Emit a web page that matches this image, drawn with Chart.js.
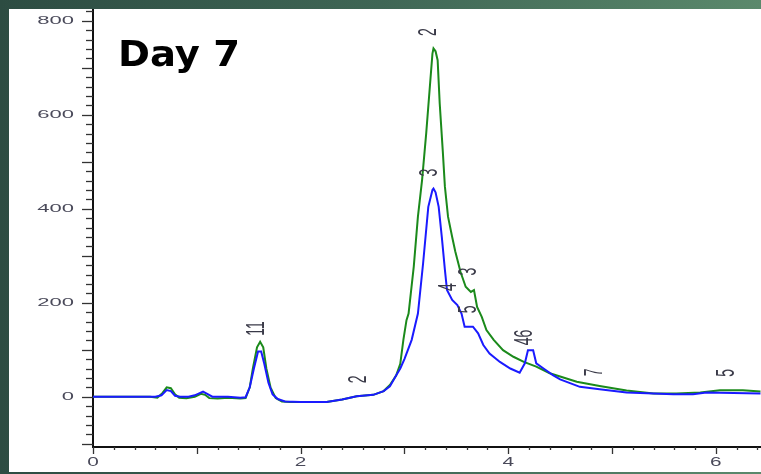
<!DOCTYPE html>
<html>
<head>
<meta charset="utf-8">
<script src="https://cdn.jsdelivr.net/npm/chart.js@4"></script>
<style>
  body { margin: 0; width: 761px; height: 474px; overflow: hidden;
         background: linear-gradient(90deg, #2d4c42 0%, #3f6655 50%, #5b896c 100%); }
  #panel { position: absolute; left: 9px; top: 9px; width: 752px; height: 463px; background: #fff; }
</style>
</head>
<body>
<div id="panel"><canvas id="dayChart" width="752" height="463"></canvas></div>
<script>
// retention time (min) and detector response
const greenTime = [0, 0.55, 0.62, 0.67, 0.71, 0.75, 0.79, 0.83, 0.9, 0.98, 1.04, 1.08, 1.12, 1.2, 1.3, 1.42, 1.47,
  1.51, 1.54, 1.58, 1.61, 1.64, 1.67, 1.71, 1.76, 1.82, 1.9, 2.0, 2.25, 2.4, 2.54, 2.7, 2.8, 2.86, 2.92, 2.96,
  2.99, 3.02, 3.04, 3.09, 3.13, 3.17, 3.21, 3.25, 3.27, 3.28, 3.3, 3.32, 3.34, 3.37, 3.39, 3.42, 3.46, 3.49,
  3.54, 3.59, 3.64, 3.67, 3.7, 3.745, 3.79, 3.86, 3.95, 4.05, 4.15, 4.27, 4.4, 4.5, 4.66, 4.88, 5.14, 5.4,
  5.62, 5.85, 6.04, 6.26, 6.43];
const greenValues = [0, 0, -2, 8, 20, 18, 5, -2, -3, 0, 6, 4, -3, -4, -2, -4, -3,
  20, 60, 105, 117, 105, 60, 20, -3, -10, -11, -11, -11, -6, 1, 4, 12, 25, 45, 70,
  121, 163, 177, 277, 383, 461, 561, 674, 730, 741, 735, 716, 624, 521, 447, 383, 340, 309,
  266, 234, 223, 227, 191, 170, 142, 121, 99, 85, 74, 64, 50, 43, 32, 23, 13, 7,
  7, 9, 14, 14, 11];

const blueTime = [0, 0.6, 0.66, 0.71, 0.75, 0.79, 0.84, 0.92, 0.98, 1.06, 1.1, 1.15, 1.3, 1.42, 1.47,
  1.51, 1.55, 1.59, 1.62, 1.65, 1.69, 1.73, 1.78, 1.85, 2.0, 2.25, 2.4, 2.54, 2.7, 2.8, 2.86, 2.92, 2.96,
  3.0, 3.07, 3.13, 3.18, 3.23, 3.27, 3.28, 3.3, 3.33, 3.36, 3.39, 3.41, 3.46, 3.51, 3.55, 3.58, 3.66,
  3.71, 3.76, 3.82, 3.92, 4.02, 4.11, 4.16, 4.19, 4.24, 4.27, 4.34, 4.43, 4.5, 4.69, 4.88, 5.14, 5.4,
  5.59, 5.78, 5.91, 6.43];
const blueValues = [0, 0, 3, 14, 12, 2, 0, 0, 3, 11, 6, 0, 0, -2, -1,
  20, 60, 96, 96, 70, 30, 5, -5, -10, -11, -11, -6, 1, 4, 12, 22, 45, 60,
  80, 121, 177, 284, 404, 440, 443, 435, 404, 340, 270, 227, 206, 195, 177, 149, 149,
  135, 110, 92, 74, 60, 51, 71, 99, 99, 71, 60, 46, 37, 21, 16, 9, 7,
  5, 5, 9, 7];

// peak annotations (rotated in the original)
const peakLabels = ["2", "3", "11", "2", "3", "4", "5", "46", "7", "5"];
const peakX = [3.237, 3.247, 1.577, 2.556, 3.616, 3.423, 3.616, 4.162, 4.836, 6.105];
const peakY = [776, 477, 145, 37, 266, 233, 186, 126, 52, 51];

const xTickLabels = [0, 2, 4, 6];
const yTickLabels = [0, 200, 400, 600, 800];

const pts = (t, v) => t.map((x, i) => ({ x: x, y: v[i] }));

const axisDecor = {
  id: "axisDecor",
  afterDraw(chart) {
    const ctx = chart.ctx;
    const xs = chart.scales.x, ys = chart.scales.y;
    const left = chart.chartArea.left, bottom = chart.chartArea.bottom;
    ctx.save();
    ctx.strokeStyle = "#333";
    ctx.lineWidth = 1.3;
    // y ticks every 20, longer every 100
    for (let v = -100; v <= 820; v += 20) {
      const py = Math.round(ys.getPixelForValue(v)) + 0.5;
      const len = v % 100 === 0 ? 11 : 7;
      ctx.beginPath(); ctx.moveTo(left - len, py); ctx.lineTo(left, py); ctx.stroke();
    }
    // x ticks every 0.2, longer on integers
    for (let k = 0; k <= 32; k++) {
      const v = k * 0.2;
      const px = Math.round(xs.getPixelForValue(v)) + 0.5;
      const len = k % 5 === 0 ? 7 : 3;
      ctx.beginPath(); ctx.moveTo(px, bottom); ctx.lineTo(px, bottom + len); ctx.stroke();
    }
    ctx.fillStyle = "#4a4a5a";
    ctx.textBaseline = "middle";
    ctx.font = "11px 'Liberation Sans'";
    ctx.textAlign = "right";
    yTickLabels.forEach(v => {
      ctx.save();
      ctx.translate(65, ys.getPixelForValue(v));
      ctx.scale(2.0, 1);
      ctx.fillText(String(v), 0, 0);
      ctx.restore();
    });
    ctx.font = "13px 'Liberation Sans'";
    ctx.textAlign = "center";
    xTickLabels.forEach(v => {
      ctx.save();
      ctx.translate(xs.getPixelForValue(v), bottom + 15);
      ctx.scale(1.6, 1);
      ctx.fillText(String(v), 0, 0);
      ctx.restore();
    });
    // peak labels
    ctx.font = "14px 'Liberation Sans'";
    ctx.fillStyle = "#3a3a48";
    peakLabels.forEach((s, i) => {
      ctx.save();
      ctx.translate(xs.getPixelForValue(peakX[i]), ys.getPixelForValue(peakY[i]));
      ctx.scale(1.9, 1);
      ctx.rotate(-Math.PI / 2);
      ctx.fillText(s, 0, 0);
      ctx.restore();
    });
    // title
    ctx.fillStyle = "#000";
    ctx.font = "bold 36px 'DejaVu Sans'";
    ctx.textAlign = "left";
    ctx.textBaseline = "alphabetic";
    ctx.save();
    ctx.translate(109, 57);
    ctx.scale(1.07, 1);
    ctx.fillText("Day 7", 0, 0);
    ctx.restore();
    ctx.restore();
  }
};

new Chart(document.getElementById("dayChart").getContext("2d"), {
  type: "line",
  data: {
    datasets: [
      { label: "Blue", data: pts(blueTime, blueValues), borderColor: "#1a1aff", borderWidth: 2,
        pointRadius: 0, tension: 0, fill: false },
      { label: "Green", data: pts(greenTime, greenValues), borderColor: "#1b8a1b", borderWidth: 2,
        pointRadius: 0, tension: 0, fill: false }
    ]
  },
  options: {
    responsive: false,
    animation: false,
    layout: { padding: 0 },
    plugins: { legend: { display: false }, tooltip: { enabled: false } },
    scales: {
      x: {
        type: "linear", min: 0, max: 6.435,
        grid: { display: false },
        border: { color: "#111", width: 2 },
        ticks: { display: false },
        afterFit: s => { s.height = 25; }
      },
      y: {
        min: -107, max: 825,
        grid: { display: false },
        border: { color: "#111", width: 2 },
        ticks: { display: false },
        afterFit: s => { s.width = 84; }
      }
    }
  },
  plugins: [axisDecor]
});
</script>
</body>
</html>
